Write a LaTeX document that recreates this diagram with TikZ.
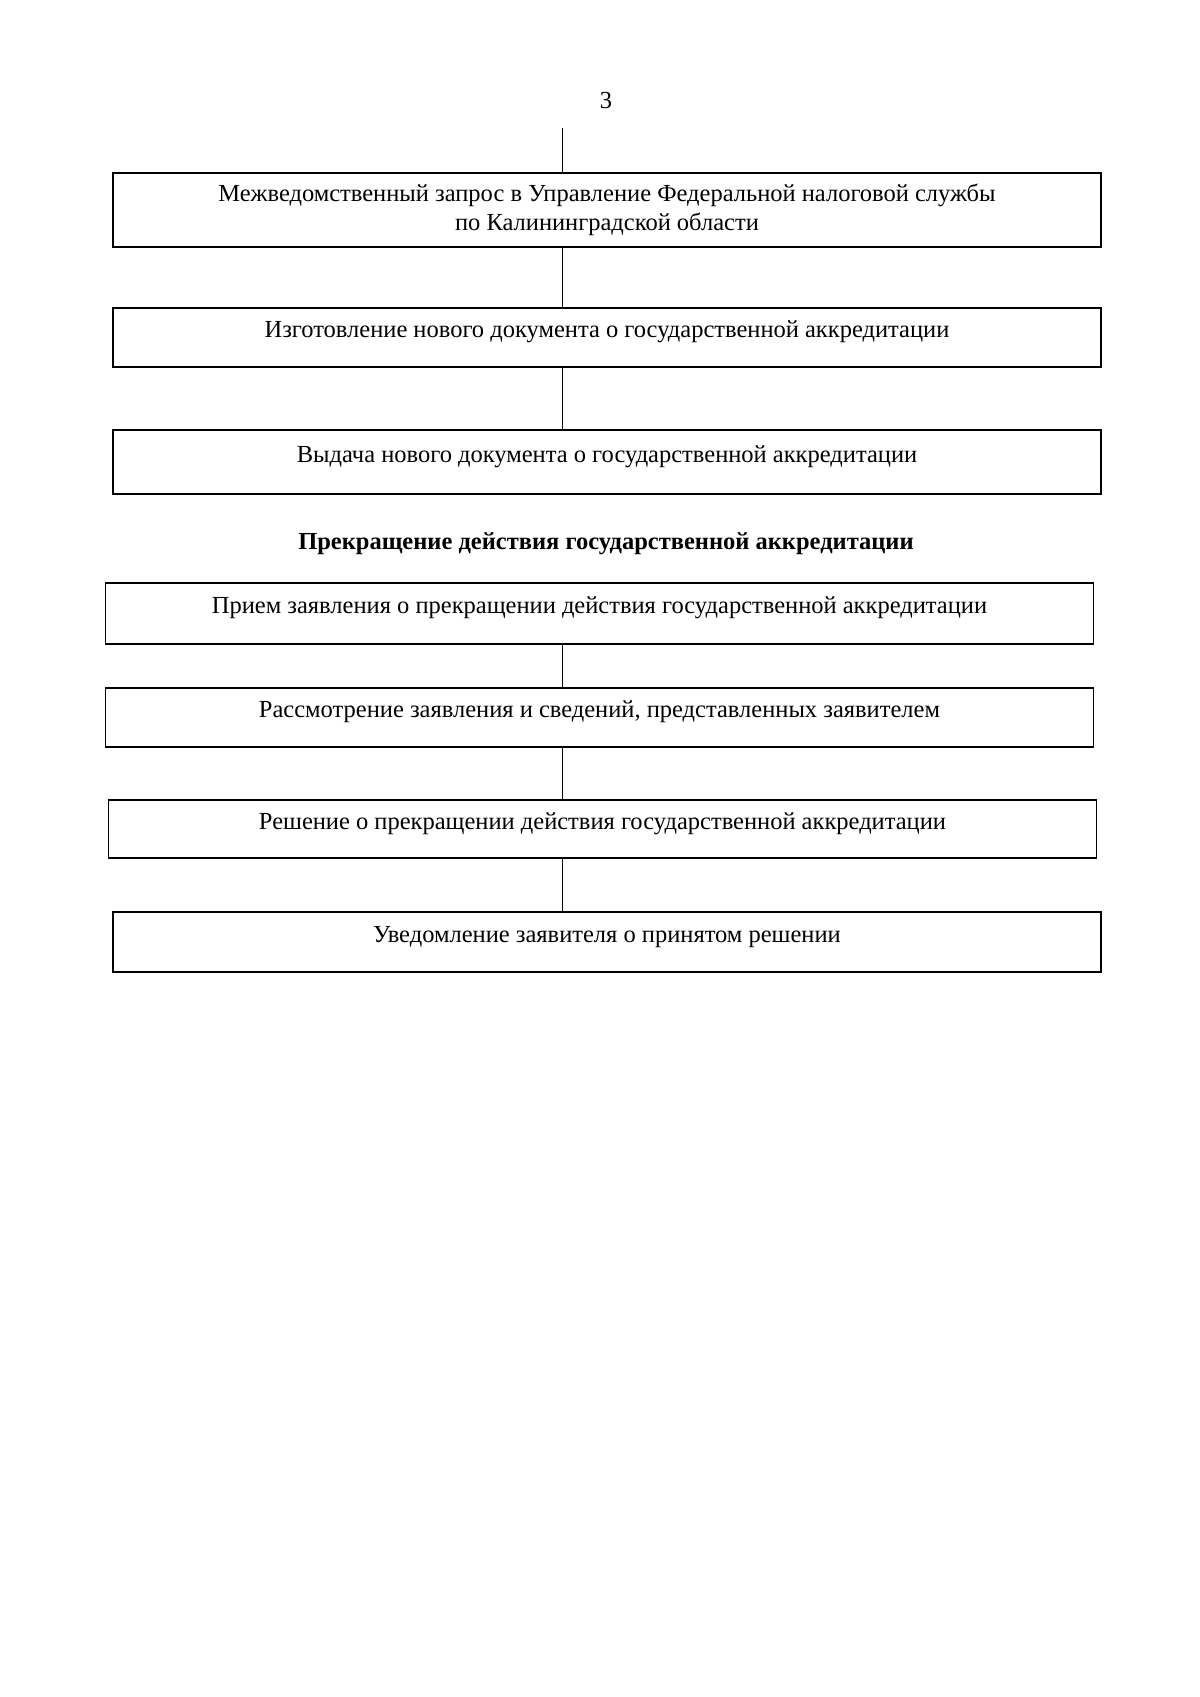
\documentclass[tikz,border=0pt]{standalone}
\usepackage{fontspec}
\setmainfont{Liberation Serif}
\usetikzlibrary{positioning}

\tikzset{
  stage/.style={draw,line width=0.7pt,minimum width=17.29cm,minimum height=1.05cm,
    align=center,text height=2ex,text depth=2ex,inner sep=2pt},
  link/.style={line width=0.45pt},
  every node/.style={font=\fontsize{12.2}{14.4}\selectfont}
}

\begin{document}
\begin{tikzpicture}[x=0.0175cm,y=-0.0175cm]
\useasboundingbox (0,0) rectangle (1200,1697);
\coordinate (ax) at (562,0);
\coordinate (top) at (562,128);
\node (pagenum) at (606,101) {3};
% renewal of the document
\node[stage,minimum height=1.295cm,text height=,text depth=] (b1) at (607,210)
  {Межведомственный запрос в Управление Федеральной налоговой службы\\по Калининградской области};
\node[stage,minimum height=1.03cm] (b2) at (607,337.5) {Изготовление нового документа о государственной аккредитации};
\node[stage,minimum height=1.12cm] (b3) at (607,462) {Выдача нового документа о государственной аккредитации};
% termination
\node[font=\fontsize{12.2}{14.4}\selectfont\bfseries] (head) at (606,544) {Прекращение действия государственной аккредитации};
\node[stage,minimum height=1.07cm] (b4) at (599.5,613.5) {Прием заявления о прекращении действия государственной аккредитации};
\node[stage,minimum height=1.03cm] (b5) at (599.5,717.5) {Рассмотрение заявления и сведений, представленных заявителем};
\node[stage,minimum height=1.015cm] (b6) at (602.5,829) {Решение о прекращении действия государственной аккредитации};
\node[stage,minimum height=1.05cm] (b7) at (607,942) {Уведомление заявителя о принятом решении};

\draw[link] (top) -- (b1.north -| ax);
\foreach \a/\b in {b1/b2,b2/b3,b4/b5,b5/b6,b6/b7}
  \draw[link] (\a.south -| ax) -- (\b.north -| ax);
\end{tikzpicture}
\end{document}
